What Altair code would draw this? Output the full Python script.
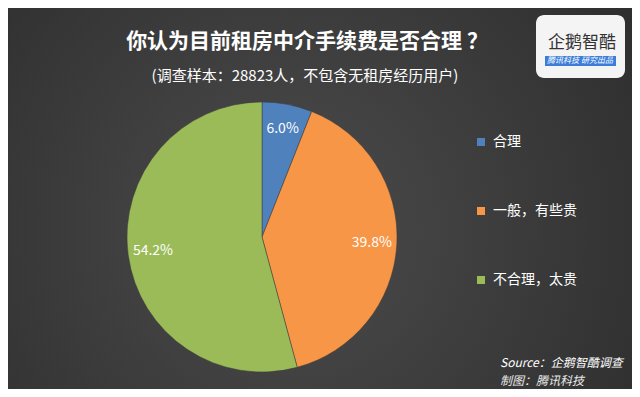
import altair as alt
import pandas as pd

categories = ["合理", "一般，有些贵", "不合理，太贵"]
values = [6.0, 39.8, 54.2]
labels = ["6.0%", "39.8%", "54.2%"]
colors = ["#4f81bd", "#f79646", "#9bbb59"]

title_text = "你认为目前租房中介手续费是否合理 ？"
subtitle_text = "(调查样本：28823人，不包含无租房经历用户)"
source_lines = ["Source：企鹅智酷调查", "制图：腾讯科技"]

FONT = "Noto Sans CJK SC"
W, H = 624, 381
CX, CY, R = 254, 229, 135

df = pd.DataFrame({"cat": categories, "val": values, "label": labels, "order": [0, 1, 2]})
one = pd.DataFrame({"a": [0]})

bg = alt.Chart(one).mark_rect(
    color=alt.Gradient(
        gradient="radial",
        stops=[alt.GradientStop(offset=0, color="#4c4c4c"),
               alt.GradientStop(offset=1, color="#2a2a2a")],
        x1=0.45, y1=0.55, r1=0, x2=0.45, y2=0.55, r2=0.75,
    )
).encode(x=alt.value(0), x2=alt.value(W), y=alt.value(0), y2=alt.value(H))

color_scale = alt.Scale(domain=categories, range=colors)

arcs = alt.Chart(df).mark_arc(outerRadius=R, stroke="#3a3a3a", strokeWidth=0.5).encode(
    theta=alt.Theta("val:Q", stack=True),
    order=alt.Order("order:Q"),
    color=alt.Color(
        "cat:N", scale=color_scale, sort=categories,
        legend=alt.Legend(
            title=None, orient="none", legendX=466, legendY=127,
            symbolType="square", symbolSize=64, symbolStrokeWidth=0,
            labelColor="#ffffff", labelFont=FONT, labelFontSize=14,
            rowPadding=55, labelOffset=5,
        ),
    ),
    x=alt.value(CX), y=alt.value(CY),
)

pct = alt.Chart(df).mark_text(
    radius=110, color="#ffffff", font=FONT, fontSize=14
).encode(
    theta=alt.Theta("val:Q", stack=True),
    order=alt.Order("order:Q"),
    text="label:N",
    x=alt.value(CX), y=alt.value(CY),
)

title = alt.Chart(one).mark_text(
    text=title_text, color="#ffffff", font=FONT, fontSize=21, fontWeight="bold", align="center", baseline="middle"
).encode(x=alt.value(299), y=alt.value(34))

subtitle = alt.Chart(one).mark_text(
    text=subtitle_text, color="#ffffff", font=FONT, fontSize=15, align="center", baseline="middle"
).encode(x=alt.value(297), y=alt.value(68))

logo_box = alt.Chart(one).mark_rect(color="#f4f4f4", cornerRadius=8).encode(
    x=alt.value(528), x2=alt.value(617), y=alt.value(7), y2=alt.value(70)
)
logo_text = alt.Chart(one).mark_text(
    text="企鹅智酷", color="#333333", font=FONT, fontSize=17, align="center", baseline="middle"
).encode(x=alt.value(574), y=alt.value(35))
logo_band = alt.Chart(one).mark_rect(color="#3b7dd8").encode(
    x=alt.value(537), x2=alt.value(608), y=alt.value(48), y2=alt.value(58)
)
logo_band_text = alt.Chart(one).mark_text(
    text="腾讯科技  研究出品", color="#ffffff", font=FONT, fontSize=8, fontStyle="italic", align="center", baseline="middle"
).encode(x=alt.value(572), y=alt.value(53))

src1 = alt.Chart(one).mark_text(
    text=source_lines[0], color="#ffffff", font=FONT, fontSize=12, fontStyle="italic", align="left", baseline="middle"
).encode(x=alt.value(492), y=alt.value(355))
src2 = alt.Chart(one).mark_text(
    text=source_lines[1], color="#e8e8e8", font=FONT, fontSize=12, fontStyle="italic", align="left", baseline="middle"
).encode(x=alt.value(492), y=alt.value(373))

chart = alt.layer(
    bg, arcs, pct, title, subtitle, logo_box, logo_text, logo_band, logo_band_text, src1, src2
).properties(
    width=W, height=H, padding=0, background="#2e2e2e",
    autosize=alt.AutoSizeParams(type="fit", contains="padding"),
).configure_view(stroke=None)

chart.save("out.html", embed_options={"renderer": "svg", "actions": False})
